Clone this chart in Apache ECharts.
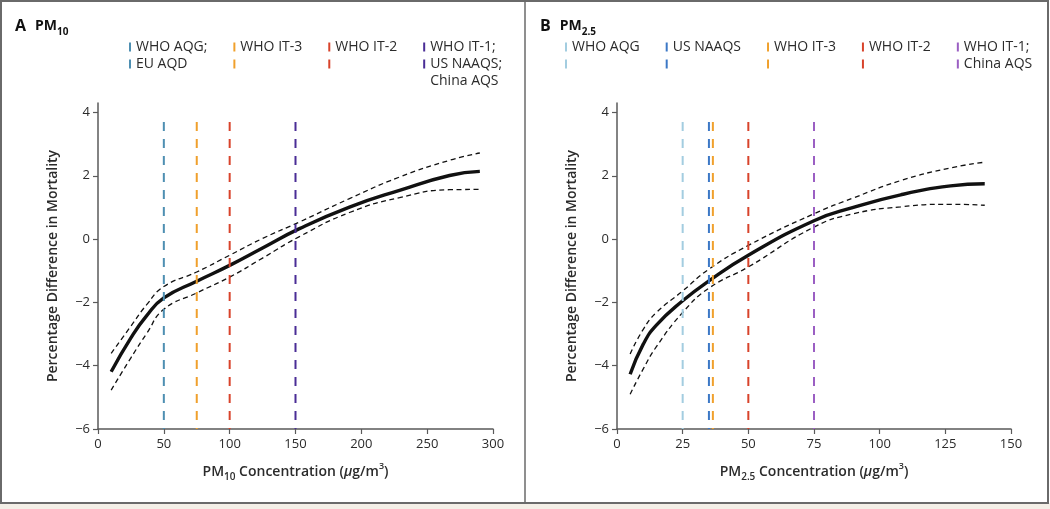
<!DOCTYPE html>
<html>
<head>
<meta charset="utf-8">
<script src="https://cdn.jsdelivr.net/npm/echarts@6/dist/echarts.min.js"></script>
<style>
html, body { margin: 0; padding: 0; background: #fff; }
#chart { width: 1050px; height: 509px; }
</style>
</head>
<body>
<div id="chart"></div>
<script>
// Panel A: PM10 spline with 95% band
const pm10X = [10, 25, 37, 50, 75, 100, 125, 153, 191, 229, 267, 290];
const pm10Mid = [-4.19, -3.12, -2.42, -1.86, -1.33, -0.83, -0.28, 0.33, 1.01, 1.54, 2.01, 2.14];
const pm10Upper = [-3.61, -2.75, -2.07, -1.5, -1.04, -0.51, 0.02, 0.54, 1.28, 1.96, 2.49, 2.72];
const pm10Lower = [-4.77, -3.75, -2.98, -2.22, -1.7, -1.2, -0.6, 0.08, 0.84, 1.31, 1.56, 1.57];
const pm10Guides = [50, 75, 100, 150];
const pm10GuideLabels = [['WHO AQG;', 'EU AQD'], ['WHO IT-3'], ['WHO IT-2'], ['WHO IT-1;', 'US NAAQS;', 'China AQS']];
const pm10GuideColors = ['#4e8fb2', '#f0a02c', '#d8432b', '#4a2d96'];
const pm10Ticks = [0, 50, 100, 150, 200, 250, 300];

// Panel B: PM2.5
const pm25X = [5, 10, 15, 25, 35, 50, 75, 90, 108, 127, 140];
const pm25Mid = [-4.27, -3.32, -2.72, -1.95, -1.32, -0.51, 0.58, 1.0, 1.4, 1.68, 1.75];
const pm25Upper = [-3.63, -2.85, -2.32, -1.64, -0.95, -0.2, 0.8, 1.3, 1.85, 2.25, 2.43];
const pm25Lower = [-4.9, -4.1, -3.4, -2.32, -1.55, -0.88, 0.38, 0.8, 1.02, 1.1, 1.07];
const pm25Guides = [25, 35, 36.5, 50, 75];
const pm25GuideLabels = [['WHO AQG'], ['US NAAQS'], ['WHO IT-3'], ['WHO IT-2'], ['WHO IT-1;', 'China AQS']];
const pm25GuideColors = ['#a3cde0', '#3c78c6', '#f0a02c', '#d8432b', '#9b5fc3'];
const pm25Ticks = [0, 25, 50, 75, 100, 125, 150];

const yTicks = [-6, -4, -2, 0, 2, 4];
const guideSpan = [-6, 3.7];

const font = '"Open Sans", "Noto Sans", sans-serif';
const textColor = '#2b2b2b';
const axisColor = '#5a5a5a';

const chart = echarts.init(document.getElementById('chart'));

function pairs(xs, ys) {
  return xs.map((x, i) => [x, ys[i]]);
}

function curveSeries(idx, xs, mid, upper, lower) {
  const base = {
    type: 'line', xAxisIndex: idx, yAxisIndex: idx, symbol: 'none',
    smooth: 0.5, silent: true, z: 2
  };
  return [
    Object.assign({}, base, { name: 'upper' + idx, data: pairs(xs, upper), lineStyle: { color: '#111', width: 1.3, type: [5, 3.5] } }),
    Object.assign({}, base, { name: 'lower' + idx, data: pairs(xs, lower), lineStyle: { color: '#111', width: 1.3, type: [5, 3.5] } }),
    Object.assign({}, base, { name: 'mid' + idx, data: pairs(xs, mid), lineStyle: { color: '#111', width: 3.4 } })
  ];
}

function guideName(lines) {
  return lines.join(' ');
}

function guideSeries(idx, guides, labels, colors) {
  return guides.map((g, i) => ({
    type: 'line', name: guideName(labels[i]), xAxisIndex: idx, yAxisIndex: idx,
    symbol: 'none', silent: true, z: 3,
    data: [[g, guideSpan[1]], [g, guideSpan[0]]],
    color: colors[i],
    lineStyle: { color: colors[i], width: 2, type: [9, 8] }
  }));
}

function guideLegend(left, labels, colors, key) {
  const rows = Math.max(...labels.map(l => l.length), 2);
  const rich = {
    t: { fontSize: 14, fontFamily: font, color: textColor, lineHeight: 17, padding: [0, 0, 0, 5] },
    s: { width: 2, height: 9, lineHeight: 17 }
  };
  colors.forEach((c, i) => {
    rich[key + i] = { width: 2, height: 9, lineHeight: 17, backgroundColor: c };
  });
  const names = labels.map(guideName);
  return {
    left: left, top: 35, orient: 'horizontal', itemWidth: 0, itemHeight: 14, itemGap: 21,
    selectedMode: false, icon: 'rect',
    itemStyle: { opacity: 0 }, lineStyle: { opacity: 0 },
    data: names,
    textStyle: { rich: rich },
    formatter: function (name) {
      const i = names.indexOf(name);
      const lines = [];
      for (let r = 0; r < rows; r++) {
        const mark = r < 2 ? '{' + key + i + '|}' : '{s|}';
        const txt = labels[i][r] ? '{t|' + labels[i][r] + '}' : '{t| }';
        lines.push(mark + txt);
      }
      return lines.join('\n');
    }
  };
}

function xAxis(idx, max, ticks, sub) {
  return {
    type: 'value', gridIndex: idx, min: 0, max: max, interval: ticks[1] - ticks[0],
    name: '{b|PM}{sub|' + sub + '}{b| Concentration (}{i|µ}{b|g/m}{sup|3}{b|)}',
    nameLocation: 'middle', nameGap: 33,
    nameTextStyle: {
      rich: {
        b: { fontSize: 14, fontWeight: 600, fontFamily: font, color: textColor, lineHeight: 20 },
        i: { fontSize: 14, fontWeight: 600, fontStyle: 'italic', fontFamily: font, color: textColor, lineHeight: 20 },
        sub: { fontSize: 10, fontWeight: 600, fontFamily: font, color: textColor, lineHeight: 10, verticalAlign: 'bottom' },
        sup: { fontSize: 9, fontWeight: 600, fontFamily: font, color: textColor, lineHeight: 10, verticalAlign: 'top' }
      }
    },
    axisLine: { onZero: false, lineStyle: { color: axisColor, width: 1.5 } },
    axisTick: { length: 5, lineStyle: { color: axisColor, width: 1.2 } },
    axisLabel: { fontSize: 13, fontFamily: font, color: textColor, margin: 9 },
    splitLine: { show: false }
  };
}

function yAxis(idx) {
  return {
    type: 'value', gridIndex: idx, min: -6, max: 4.3,
    name: 'Percentage Difference in Mortality',
    nameLocation: 'middle', nameGap: 38,
    nameTextStyle: { fontSize: 14, fontWeight: 600, fontFamily: font, color: textColor },
    axisLine: { show: true, onZero: false, lineStyle: { color: axisColor, width: 1.5 } },
    axisTick: { show: true, length: 5, customValues: yTicks, lineStyle: { color: axisColor, width: 1.2 } },
    axisLabel: { fontSize: 13, fontFamily: font, color: textColor, margin: 8, customValues: yTicks,
      formatter: v => (v < 0 ? '\u2212' + Math.abs(v) : String(v)) },
    splitLine: { show: false }
  };
}

function panelTitle(left, letter, sub) {
  return {
    left: left, top: 15, padding: 0,
    text: '{l|' + letter + '}{g|}{p|PM}{s|' + sub + '}',
    textStyle: {
      rich: {
        l: { fontSize: 16, fontWeight: 700, fontFamily: font, color: '#111', lineHeight: 22 },
        g: { width: 9 },
        p: { fontSize: 14, fontWeight: 700, fontFamily: font, color: '#111', lineHeight: 22 },
        s: { fontSize: 10, fontWeight: 700, fontFamily: font, color: '#111', lineHeight: 10, verticalAlign: 'bottom' }
      }
    }
  };
}

chart.setOption({
  animation: false,
  backgroundColor: '#fff',
  title: [panelTitle(15, 'A', '10'), panelTitle(540, 'B', '2.5')],
  legend: [
    guideLegend(119, pm10GuideLabels, pm10GuideColors, 'a'),
    guideLegend(555, pm25GuideLabels, pm25GuideColors, 'b')
  ],
  grid: [
    { left: 98, right: 557, top: 103, bottom: 80 },
    { left: 617, right: 39, top: 103, bottom: 80 }
  ],
  xAxis: [xAxis(0, 300, pm10Ticks, '10'), xAxis(1, 150, pm25Ticks, '2.5')],
  yAxis: [yAxis(0), yAxis(1)],
  series: [].concat(
    curveSeries(0, pm10X, pm10Mid, pm10Upper, pm10Lower),
    curveSeries(1, pm25X, pm25Mid, pm25Upper, pm25Lower),
    guideSeries(0, pm10Guides, pm10GuideLabels, pm10GuideColors),
    guideSeries(1, pm25Guides, pm25GuideLabels, pm25GuideColors)
  ),
  graphic: [
    { type: 'rect', shape: { x: 0, y: 503, width: 1050, height: 6 }, style: { fill: '#f4efe7' }, silent: true },
    { type: 'rect', shape: { x: 1, y: 1, width: 1047, height: 502 }, style: { fill: null, stroke: '#6a6a6a', lineWidth: 2 }, silent: true },
    { type: 'line', shape: { x1: 525, y1: 1, x2: 525, y2: 503 }, style: { stroke: '#6a6a6a', lineWidth: 1.5 }, silent: true }
  ]
});
</script>
</body>
</html>
